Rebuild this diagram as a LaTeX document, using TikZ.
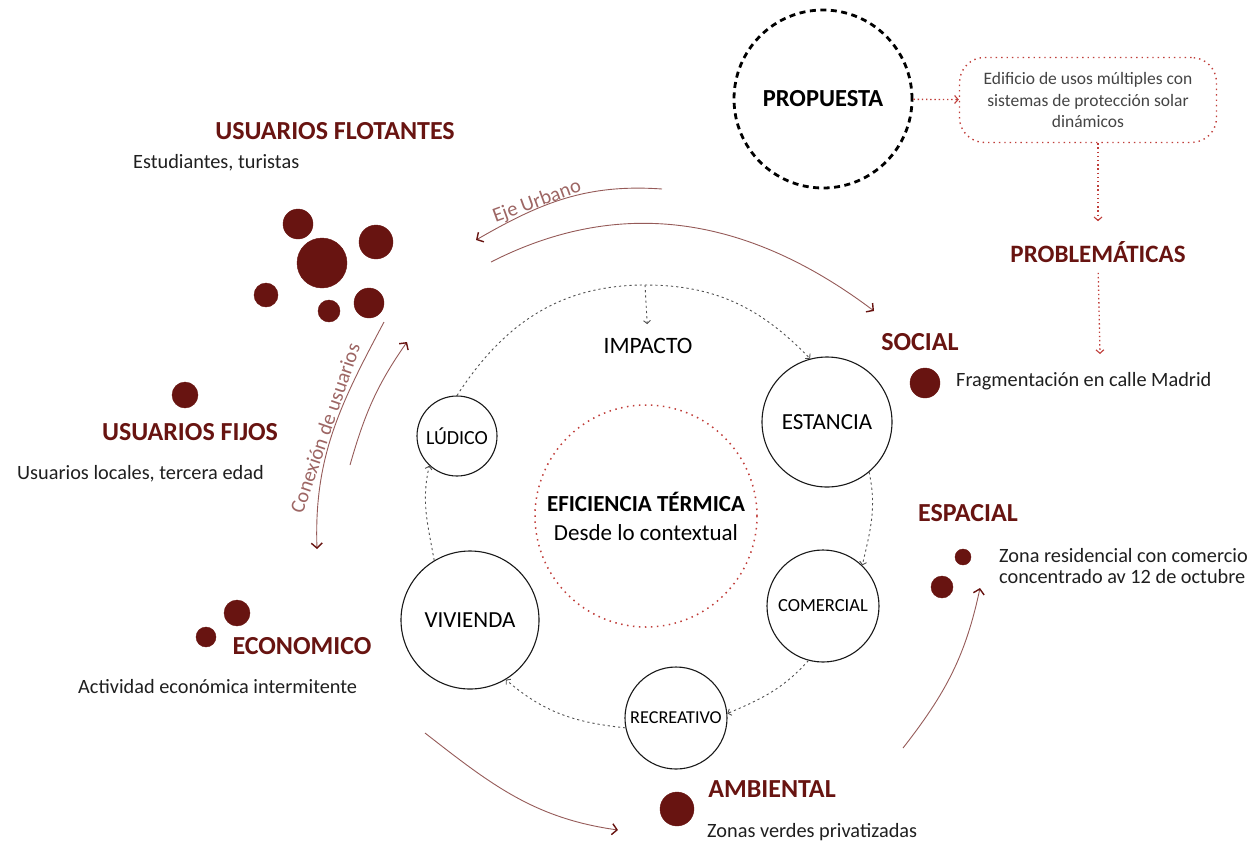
\documentclass[tikz,border=0pt]{standalone}
\usepackage{fontspec}
\setmainfont{Carlito}
\usetikzlibrary{arrows.meta}

\definecolor{vino}{RGB}{104,20,17}
\definecolor{rojopunto}{RGB}{192,62,58}
\definecolor{grisanillo}{RGB}{80,80,80}
\definecolor{gristexto}{RGB}{68,68,68}

\tikzset{
  titulo/.style={font=\fontsize{26}{30}\selectfont\bfseries, text=vino, inner sep=0pt},
  texto/.style={font=\fontsize{20.3}{21.5}\selectfont, text=black!88, inner sep=0pt, anchor=west, align=left},
  etapa/.style={circle, draw=black!90, line width=1.1pt, inner sep=0pt},
  anillo/.style={draw=grisanillo, line width=0.9pt, dash pattern=on 2.2pt off 3pt, -{Straight Barb[length=3pt,width=7pt]}},
  flecha/.style={draw=vino!70, line width=0.9pt, -{Straight Barb[length=5pt,width=11pt,line width=1.4pt,color=vino]}},
  rojoflecha/.style={draw=rojopunto, line width=1.3pt, dash pattern=on 1.4pt off 2.8pt, -{Straight Barb[length=3.5pt,width=8pt,line width=1.1pt]}},
  rotulo/.style={font=\fontsize{20.5}{24}\selectfont, text=vino!65, inner sep=0pt},
}

\begin{document}
\begin{tikzpicture}[x=1pt,y=1pt]
  \useasboundingbox (0,0) rectangle (1255,-847);

  % PROPUESTA Y PROBLEMATICAS
  \node[circle, draw=black, line width=2.8pt, dash pattern=on 6pt off 4.5pt, minimum size=178pt, font=\fontsize{24.5}{28}\selectfont\bfseries] (propuesta) at (823,-99) {PROPUESTA};
  \node[draw=rojopunto, line width=1.4pt, dash pattern=on 1.4pt off 4pt, rounded corners=25pt, minimum width=257pt, minimum height=85pt, align=center, text=gristexto, font=\fontsize{17.5}{21.5}\selectfont] (edificio) at (1088,-100) {Edificio de usos múltiples con\\sistemas de protección solar\\dinámicos};
  \node[titulo, font=\fontsize{25}{30}\selectfont\bfseries] (problematicas) at (1098,-252) {PROBLEMÁTICAS};
  \coordinate (llegada) at (1100,-354);
  \draw[rojoflecha] (propuesta) -- (edificio);
  \draw[rojoflecha, shorten >=20pt] (edificio.south -| problematicas) -- (problematicas.north);
  \draw[rojoflecha, shorten <=10pt] (problematicas.south) -- (llegada);

  % CENTRO
  \node[circle, draw=rojopunto, line width=1.5pt, dash pattern=on 1.5pt off 4.5pt, minimum size=222pt, align=center, font=\fontsize{23}{29}\selectfont] (eficiencia) at (646,-516) {\textbf{EFICIENCIA TÉRMICA}\\Desde lo contextual};
  \node[etapa, minimum size=80pt, font=\fontsize{20}{24}\selectfont] (ludico) at (457,-436) {LÚDICO};
  \node[etapa, minimum size=130pt, font=\fontsize{23}{26}\selectfont] (estancia) at (827,-422) {ESTANCIA};
  \node[etapa, minimum size=112pt, font=\fontsize{18.5}{22}\selectfont] (comercial) at (823,-606) {COMERCIAL};
  \node[etapa, minimum size=102pt, font=\fontsize{18.2}{22}\selectfont] (recreativo) at (676,-718) {RECREATIVO};
  \node[etapa, minimum size=138pt, font=\fontsize{23}{26}\selectfont] (vivienda) at (470,-620) {VIVIENDA};
  \node[font=\fontsize{23.5}{26}\selectfont, inner sep=0pt] (impacto) at (648,-346) {IMPACTO};
  \coordinate (cima) at (645,-285);

  \draw[anillo] (ludico.north) to[out=57,in=180] (cima) to[out=0,in=134] (estancia.105);
  \draw[anillo, shorten >=14pt] (cima) -- (impacto.north);
  \draw[anillo] (estancia.-50) to[out=-78,in=77] (comercial.46);
  \draw[anillo] (comercial.-105) to[out=-132,in=23] (recreativo.5);
  \draw[anillo] (recreativo.191) to[out=174,in=-41] (vivienda.-59);
  \draw[anillo] (vivienda.121) to[out=100,in=-103] (ludico.-133);

  % USUARIOS
  \node[titulo] (flotantes) at (335,-131) {USUARIOS FLOTANTES};
  \node[texto] (estudiantes) at (133,-163) {Estudiantes, turistas};
  \filldraw[vino] (322,-263) circle (25pt);
  \filldraw[vino] (298,-224) circle (15pt);
  \filldraw[vino] (376,-242) circle (17pt);
  \filldraw[vino] (266,-295) circle (12pt);
  \filldraw[vino] (329,-311) circle (11pt);
  \filldraw[vino] (369,-303) circle (15pt);

  \filldraw[vino] (185,-395) circle (13pt);
  \node[titulo] (fijos) at (190,-432) {USUARIOS FIJOS};
  \node[texto] (locales) at (17,-474) {Usuarios locales, tercera edad};

  \filldraw[vino] (237,-613) circle (13pt);
  \filldraw[vino] (206,-637) circle (10pt);
  \node[titulo] (economico) at (302,-646) {ECONOMICO};
  \node[texto] (actividad) at (78,-687) {Actividad económica intermitente};

  % DIMENSIONES
  \node[titulo] (social) at (920,-342) {SOCIAL};
  \filldraw[vino] (925,-383) circle (15pt);
  \node[texto] (fragmentacion) at (956,-381) {Fragmentación en calle Madrid};

  \node[titulo] (espacial) at (968,-513) {ESPACIAL};
  \filldraw[vino] (963,-557) circle (8pt);
  \filldraw[vino] (942,-587) circle (11pt);
  \node[texto] (zonaresidencial) at (999,-566) {Zona residencial con comercio\\concentrado av 12 de octubre};

  \node[titulo] (ambiental) at (772,-789) {AMBIENTAL};
  \filldraw[vino] (677,-809) circle (17pt);
  \node[texto] (zonasverdes) at (707,-832) {Zonas verdes privatizadas};

  % FLECHAS
  \coordinate (eje1) at (662,-189);
  \coordinate (eje2) at (476,-240);
  \coordinate (eje3) at (491,-262);
  \coordinate (eje4) at (874,-311);
  \coordinate (con1) at (384,-322);
  \coordinate (con2) at (317,-549);
  \coordinate (con3) at (350,-465);
  \coordinate (con4) at (407,-342);
  \coordinate (amb1) at (425,-733);
  \coordinate (amb2) at (618,-830);
  \coordinate (esp1) at (903,-748);
  \coordinate (esp2) at (980,-588);

  \draw[flecha] (eje1) to[out=176,in=30] (eje2);
  \draw[flecha] (eje3) to[out=27,in=143] (eje4);
  \draw[flecha] (con1) to[out=-118,in=92] (con2);
  \draw[flecha] (con3) to[out=74,in=-125] (con4);
  \draw[flecha] (amb1) to[out=-38,in=172] (amb2);
  \draw[flecha] (esp1) to[out=52,in=-102] (esp2);

  \node[rotulo, rotate=20] (ejeurbano) at (537,-202) {Eje Urbano};
  \node[rotulo, rotate=71] (conexion) at (325,-428) {Conexión de usuarios};
\end{tikzpicture}
\end{document}
